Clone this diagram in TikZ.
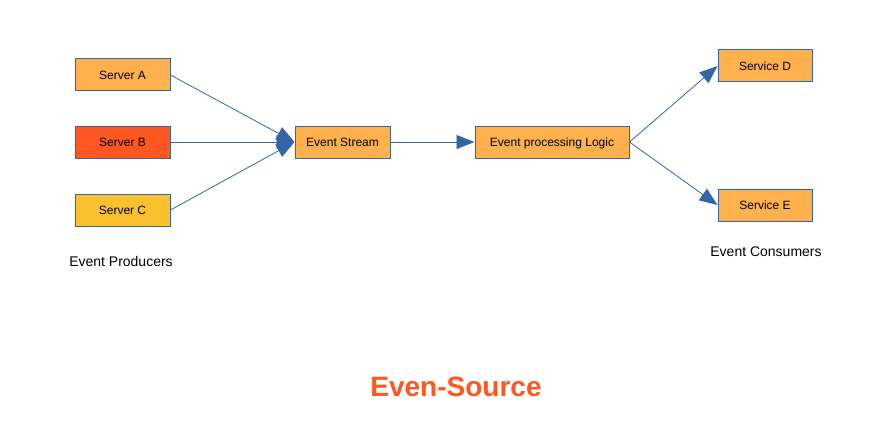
\documentclass[tikz,border=0pt]{standalone}
\usepackage{fontspec}
\setmainfont{Liberation Sans}
\usetikzlibrary{arrows.meta}
\definecolor{boxorange}{HTML}{FFB14E}
\definecolor{boxred}{HTML}{FF5722}
\definecolor{boxyellow}{HTML}{FBC02D}
\definecolor{edgeblue}{HTML}{3465A4}
\definecolor{titleorange}{HTML}{FF5722}
\tikzset{
  box/.style={draw=edgeblue, line width=1pt, fill=boxorange, minimum height=32pt, inner sep=0pt, text height=8.6pt, text depth=0pt, font=\fontsize{12}{14}\selectfont},
  conn/.style={draw=edgeblue, line width=0.8pt, -{Triangle[length=18pt,width=14pt]}},
  lbl/.style={font=\fontsize{14}{16}\selectfont, inner sep=0pt}
}
\begin{document}
\begin{tikzpicture}[x=1pt,y=-1pt]
\useasboundingbox (0,0) rectangle (893,433);
\node[box, minimum width=95pt] (a) at (122.5,75) {Server A};
\node[box, minimum width=95pt, fill=boxred] (b) at (122.5,142) {Server B};
\node[box, minimum width=95pt, fill=boxyellow] (c) at (122.5,210) {Server C};
\node[box, minimum width=95pt] (s) at (342.5,142) {Event Stream};
\node[box, minimum width=154pt] (l) at (552,142) {Event processing Logic};
\node[box, minimum width=94pt] (d) at (765,66) {Service D};
\node[box, minimum width=94pt] (e) at (765,205) {Service E};
\node[lbl] (prod) at (121,261) {Event Producers};
\node[lbl] (cons) at (766,252) {Event Consumers};
\node[font=\bfseries\fontsize{28}{32}\selectfont, text=titleorange, inner sep=0pt] (t) at (456,387) {Even-Source};
\draw[conn] (a.east) -- (s.west);
\draw[conn] (b.east) -- (s.west);
\draw[conn] (c.east) -- (s.west);
\draw[conn] (s.east) -- (l.west);
\draw[conn] (l.east) -- (d.west);
\draw[conn] (l.east) -- (e.west);
\end{tikzpicture}
\end{document}
